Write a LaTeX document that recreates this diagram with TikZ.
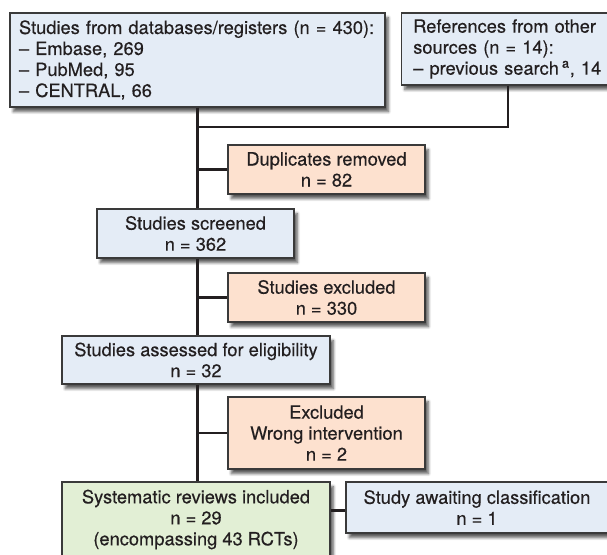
\documentclass[tikz,border=0pt]{standalone}
\usepackage{fontspec}
\setmainfont{TeX Gyre Heros}[BoldFont=TeX Gyre Heros, BoldFeatures={FakeBold=0.35}]
\usetikzlibrary{shadows.blur}
\definecolor{bluefill}{HTML}{E4ECF6}
\definecolor{orangefill}{HTML}{FDE1CF}
\definecolor{greenfill}{HTML}{E2EFD5}
\definecolor{bordercol}{HTML}{3A3A3A}
\definecolor{linecol}{HTML}{231F20}
\definecolor{textcol}{HTML}{231F20}
\tikzset{
  boxbase/.style={draw=bordercol, line width=0.8pt, inner sep=0pt, text=textcol,
    font=\fontsize{13.7}{15.75}\selectfont\bfseries, align=center,
    blur shadow={shadow xshift=2.5pt, shadow yshift=-3.5pt, shadow blur steps=6, shadow opacity=65}},
  bluebox/.style={boxbase, fill=bluefill},
  orangebox/.style={boxbase, fill=orangefill},
  greenbox/.style={boxbase, fill=greenfill},
  conn/.style={draw=linecol, line width=2.2pt}
}
\begin{document}
\begin{tikzpicture}[x=0.75pt, y=-0.75pt]
\useasboundingbox (0,0) rectangle (607,555);
\node[bluebox, align=left, text width=267.75pt, inner xsep=6.75pt, minimum height=70.5pt] (db) at (197.5,60)
  {Studies from databases/registers (n = 430):\\ – Embase, 269\\ – PubMed, 95\\ – CENTRAL, 66};
\node[bluebox, anchor=west, align=left, text width=152pt, inner xsep=8.8pt, minimum height=54pt] (other) at (401,49)
  {References from other\\ sources (n = 14):\\ – previous search\,\textsuperscript{a}, 14};
\coordinate (ox) at (508,0);
\node[orangebox, minimum width=147.75pt, minimum height=36.75pt] (dup) at (326.5,169.5)
  {Duplicates removed\\ n = 82};
\node[bluebox, minimum width=147.75pt, minimum height=36.75pt] (scr) at (195.5,233.5)
  {Studies screened\\ n = 362};
\node[orangebox, minimum width=147.75pt, minimum height=36.75pt] (exc) at (326.5,297.5)
  {Studies excluded\\ n = 330};
\node[bluebox, minimum width=201pt, minimum height=36pt] (ass) at (196,360)
  {Studies assessed for eligibility\\ n = 32};
\node[orangebox, minimum width=147.75pt, minimum height=54pt] (exw) at (326.5,433)
  {Excluded\\ Wrong intervention\\ n = 2};
\node[greenbox, minimum width=201pt, minimum height=56.25pt] (inc) at (196,519.5)
  {Systematic reviews included\\ n = 29\\ (encompassing 43 RCTs)};
\node[bluebox, minimum width=196.5pt, minimum height=38.25pt] (awt) at (477,507.5)
  {Study awaiting classification\\ n = 1};
\coordinate (jy) at (0,127);
\draw[conn] (db.south) -- (db.south |- scr.north);
\draw[conn] (db.south |- scr.south) -- (db.south |- ass.north);
\draw[conn] (db.south |- ass.south) -- (db.south |- inc.north);
\draw[conn] (other.south -| ox) |- (db.south |- jy);
\draw[conn] (dup.west) -- (dup.west -| db.south);
\draw[conn] (exc.west) -- (exc.west -| db.south);
\draw[conn] (exw.west) -- (exw.west -| db.south);
\draw[conn] ([yshift=-2.5pt]awt.west) -- ([yshift=-2.5pt]awt.west -| inc.east);
\end{tikzpicture}
\end{document}
